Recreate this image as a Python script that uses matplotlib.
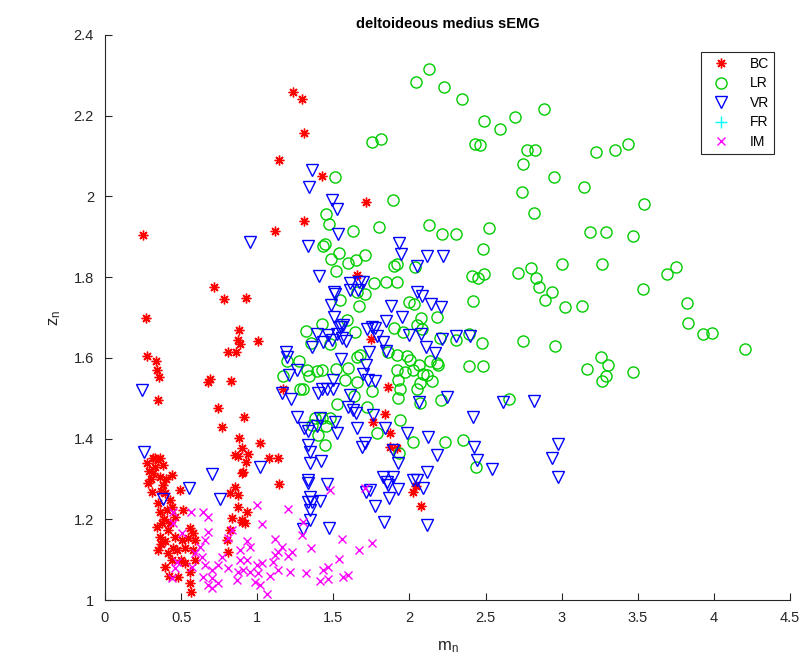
import matplotlib
matplotlib.use("Agg")
import matplotlib.pyplot as plt
import numpy as np

plt.rcParams['font.family'] = ['Liberation Sans', 'DejaVu Sans']
plt.rcParams['mathtext.default'] = 'regular'

bc_x = [1.237,1.292,1.307,1.143,1.424,1.713,1.310,1.117,0.248,1.656,0.718,0.784,0.926,0.267,0.878,0.876,0.887,0.810,0.861,1.005,
        0.278,0.333,0.344,0.357,0.679,0.692,0.828,0.350,0.745,0.767,0.915,0.880,0.898,0.329,0.361,0.872,1.018,0.942,0.926,0.909,
        1.080,1.139,1.145,0.931,0.920,0.898,0.318,0.274,0.350,0.383,0.318,0.285,0.361,0.438,0.383,0.307,0.394,0.427,0.350,0.361,
        0.405,0.460,0.372,0.416,0.361,0.394,0.460,0.504,0.350,0.416,0.471,0.526,0.394,0.482,0.558,0.558,0.565,0.493,0.515,0.558,
        0.547,0.591,0.580,0.591,0.526,0.438,0.854,0.898,0.854,0.821,0.876,0.876,0.832,0.898,0.821,0.799,0.810,0.580,1.746,1.168,
        1.763,1.862,1.840,1.873,1.873,1.916,2.026,2.040,2.074,0.33,0.40,0.30,0.37,0.44,0.39,0.34,0.43,0.37,0.45,0.42,0.50,0.29]
bc_y = [2.260,2.241,2.156,2.090,2.051,1.987,1.940,1.914,1.904,1.805,1.775,1.746,1.748,1.698,1.668,1.644,1.634,1.615,1.614,1.642,
        1.605,1.591,1.570,1.553,1.541,1.548,1.543,1.496,1.475,1.428,1.454,1.401,1.376,1.351,1.351,1.357,1.388,1.363,1.343,1.318,
        1.351,1.351,1.287,1.219,1.190,1.198,1.351,1.339,1.347,1.334,1.314,1.289,1.306,1.310,1.285,1.268,1.264,1.248,1.240,1.219,
        1.223,1.206,1.190,1.173,1.157,1.145,1.157,1.149,1.124,1.116,1.124,1.128,1.083,1.058,1.070,1.041,1.021,1.273,1.223,1.178,
        1.153,1.149,1.124,1.099,1.091,1.099,1.359,1.314,1.281,1.264,1.260,1.231,1.202,1.194,1.173,1.149,1.120,1.165,1.646,1.522,
        1.442,1.527,1.461,1.413,1.380,1.376,1.268,1.282,1.234,1.33,1.30,1.30,1.27,1.23,1.20,1.18,1.19,1.14,1.13,1.06,1.10,1.32]

lr_x = [2.131,2.043,2.229,2.348,2.492,2.593,2.694,1.756,1.813,2.431,2.464,2.886,2.775,2.827,2.744,2.952,2.740,2.817,3.228,3.353,
        3.438,3.149,3.543,3.189,3.294,3.471,2.714,2.797,2.830,2.854,2.937,2.893,3.022,3.134,3.005,3.265,3.533,3.690,3.752,3.826,
        3.828,3.929,3.988,4.207,2.749,2.957,3.259,3.303,3.165,3.292,3.268,3.467,2.654,1.890,1.800,2.127,2.214,2.304,2.525,2.481,
        1.901,1.916,2.037,2.411,2.453,2.492,1.767,1.844,1.920,1.995,2.030,2.420,1.511,1.452,1.472,1.632,1.434,1.445,1.483,1.540,
        1.599,1.647,1.708,1.516,1.654,1.708,1.544,1.669,1.428,1.592,1.319,1.353,1.478,1.643,1.193,1.275,1.654,1.676,1.325,1.340,
        1.395,1.424,1.518,1.594,1.168,1.577,1.654,1.752,1.281,1.303,1.636,1.526,1.719,1.380,1.424,1.478,1.358,1.452,1.401,1.445,
        1.785,2.184,2.076,2.052,2.085,1.960,1.901,2.201,2.306,2.394,2.475,1.862,1.921,1.982,2.004,2.065,2.135,2.179,2.190,1.921,
        1.971,2.026,2.091,2.113,1.927,2.146,2.069,1.938,2.048,1.927,2.069,2.205,2.394,2.481,1.938,2.022,2.234,2.350,1.932,2.436]
lr_y = [2.315,2.283,2.272,2.241,2.188,2.166,2.196,2.136,2.142,2.131,2.127,2.216,2.116,2.116,2.080,2.047,2.010,1.958,2.109,2.115,
        2.131,2.023,1.981,1.912,1.911,1.901,1.810,1.823,1.799,1.776,1.762,1.744,1.725,1.729,1.832,1.833,1.770,1.807,1.825,1.735,
        1.687,1.660,1.662,1.622,1.642,1.629,1.602,1.582,1.572,1.555,1.543,1.564,1.497,1.992,1.925,1.929,1.908,1.908,1.923,1.870,
        1.828,1.833,1.826,1.804,1.799,1.807,1.785,1.789,1.787,1.738,1.733,1.741,2.047,1.956,1.932,1.915,1.876,1.881,1.845,1.859,
        1.834,1.842,1.854,1.815,1.764,1.758,1.743,1.728,1.685,1.695,1.666,1.638,1.634,1.663,1.591,1.591,1.603,1.607,1.570,1.555,
        1.567,1.570,1.572,1.574,1.555,1.545,1.541,1.518,1.524,1.522,1.505,1.486,1.479,1.450,1.450,1.450,1.434,1.430,1.409,1.384,
        1.413,1.700,1.698,1.681,1.671,1.665,1.673,1.648,1.644,1.658,1.636,1.614,1.607,1.605,1.595,1.582,1.591,1.588,1.582,1.570,
        1.566,1.570,1.561,1.557,1.545,1.543,1.537,1.522,1.522,1.500,1.487,1.496,1.580,1.580,1.446,1.392,1.392,1.396,1.365,1.329]

vr_x = [2.617,2.817,2.974,2.937,2.978,1.932,1.945,2.118,2.223,2.048,2.048,2.081,1.879,2.142,2.208,1.358,1.343,1.491,1.522,1.533,
        0.953,1.336,1.404,1.507,1.511,1.610,1.671,1.697,1.610,1.665,1.485,1.507,1.540,1.391,1.719,1.752,1.551,1.566,1.467,1.522,
        1.555,1.583,1.434,1.489,1.358,1.774,1.189,1.193,1.735,1.551,1.713,1.211,1.260,1.697,1.500,1.730,1.774,1.161,1.222,1.401,
        1.424,1.461,1.496,1.610,1.599,1.632,1.647,1.763,1.260,1.307,1.332,1.413,1.395,1.511,1.522,1.654,1.708,1.687,1.336,1.953,
        1.844,1.785,1.829,1.846,1.997,2.076,2.109,2.168,2.212,2.304,2.398,2.063,2.245,2.420,1.840,1.982,2.124,2.424,1.895,1.927,
        1.829,1.895,1.851,1.862,1.927,1.741,1.868,1.774,1.833,2.026,2.052,2.087,2.113,2.184,2.118,2.442,2.541,1.018,1.347,1.347,
        1.419,1.336,1.336,1.461,1.347,1.336,1.358,1.413,1.347,1.347,1.299,1.474,1.715,0.241,0.258,0.705,0.552,0.383,0.756]
vr_y = [1.491,1.493,1.387,1.351,1.306,1.885,1.857,1.853,1.853,1.828,1.764,1.754,1.729,1.733,1.725,2.065,2.023,1.990,1.968,1.907,
        1.888,1.877,1.804,1.764,1.758,1.785,1.789,1.789,1.768,1.768,1.731,1.700,1.677,1.660,1.672,1.677,1.676,1.681,1.657,1.659,
        1.648,1.642,1.640,1.644,1.628,1.673,1.615,1.603,1.615,1.596,1.582,1.557,1.570,1.561,1.545,1.545,1.543,1.512,1.498,1.514,
        1.522,1.523,1.523,1.508,1.479,1.471,1.463,1.458,1.454,1.425,1.419,1.452,1.430,1.442,1.413,1.425,1.388,1.380,1.384,1.700,
        1.692,1.653,1.640,1.617,1.657,1.659,1.628,1.613,1.646,1.653,1.654,1.491,1.504,1.454,1.425,1.413,1.405,1.380,1.372,1.339,
        1.306,1.306,1.293,1.285,1.274,1.273,1.252,1.233,1.194,1.297,1.297,1.277,1.316,1.359,1.186,1.347,1.325,1.329,1.367,1.339,
        1.345,1.297,1.289,1.287,1.256,1.244,1.244,1.246,1.223,1.198,1.175,1.179,1.268,1.520,1.367,1.312,1.278,1.250,1.250]

fr_x = []
fr_y = []

im_x = [0.449,0.565,0.646,0.679,0.449,0.679,0.504,0.657,0.624,0.591,0.635,0.767,0.745,0.657,0.701,0.810,0.569,0.471,0.460,0.646,
        0.701,0.745,0.679,0.701,0.438,0.887,0.887,0.876,0.865,0.832,0.810,1.001,1.205,1.029,1.303,1.292,1.478,1.708,0.931,0.953,
        1.117,1.161,1.139,1.117,1.227,1.205,1.353,1.555,1.752,1.669,1.537,0.931,0.997,1.029,1.106,0.909,0.953,1.007,1.084,1.139,
        1.216,1.318,1.434,1.467,1.413,1.467,1.566,1.599,0.986,1.018,1.067]
im_y = [1.219,1.219,1.219,1.206,1.190,1.169,1.165,1.149,1.132,1.116,1.107,1.107,1.087,1.087,1.074,1.079,1.083,1.095,1.079,1.058,
        1.054,1.041,1.037,1.029,1.054,1.124,1.099,1.070,1.050,1.173,1.153,1.235,1.225,1.188,1.194,1.161,1.273,1.277,1.145,1.132,
        1.150,1.132,1.120,1.111,1.120,1.109,1.128,1.151,1.142,1.124,1.102,1.099,1.087,1.091,1.095,1.074,1.070,1.066,1.059,1.074,
        1.070,1.066,1.074,1.083,1.048,1.051,1.058,1.062,1.045,1.037,1.015]

labels = ['BC', 'LR', 'VR', 'FR', 'IM']
x_ticks = [0, 0.5, 1, 1.5, 2, 2.5, 3, 3.5, 4, 4.5]
y_ticks = [1, 1.2, 1.4, 1.6, 1.8, 2, 2.2, 2.4]

fig = plt.figure(figsize=(8.04, 6.57), dpi=100)
ax = fig.add_axes([105/804, 1-600/657, 685/804, 565/657])

ax.plot(bc_x, bc_y, linestyle='none', marker=(8, 2, 0), markersize=7, markeredgewidth=1.0,
        color='red', label=labels[0])
ax.plot(lr_x, lr_y, linestyle='none', marker='o', markersize=8, markeredgewidth=1.0,
        markerfacecolor='none', markeredgecolor=(0, 0.8, 0), label=labels[1])
ax.plot(vr_x, vr_y, linestyle='none', marker='v', markersize=9, markeredgewidth=1.0,
        markerfacecolor='none', markeredgecolor='blue', label=labels[2])
ax.plot(fr_x, fr_y, linestyle='none', marker='+', markersize=8, markeredgewidth=1.0,
        color='cyan', label=labels[3])
ax.plot(im_x, im_y, linestyle='none', marker='x', markersize=5.5, markeredgewidth=1.0,
        color='magenta', label=labels[4])

ax.set_xlim(0, 4.5)
ax.set_ylim(1, 2.4)
ax.set_xticks(x_ticks)
ax.set_xticklabels(['0', '0.5', '1', '1.5', '2', '2.5', '3', '3.5', '4', '4.5'])
ax.set_yticks(y_ticks)
ax.set_yticklabels(['1', '1.2', '1.4', '1.6', '1.8', '2', '2.2', '2.4'])

gray = (0.15, 0.15, 0.15)
for s in ['top', 'right']:
    ax.spines[s].set_visible(False)
for s in ['left', 'bottom']:
    ax.spines[s].set_color(gray)
    ax.spines[s].set_linewidth(0.8)
ax.tick_params(direction='in', length=5, width=0.8, colors=gray, labelsize=10.5, pad=8)

ax.set_xlabel('m$_n$', fontsize=12, color=gray, labelpad=10)
ax.set_ylabel('z$_n$', fontsize=12, color=gray, labelpad=8)
ax.set_title('deltoideous medius sEMG', fontsize=10.5, fontweight='bold', pad=5)

leg = ax.legend(loc='upper right', bbox_to_anchor=(0.977, 0.970), fontsize=10,
                frameon=True, fancybox=False, edgecolor=gray, framealpha=1,
                handlelength=2.2, handletextpad=1.0, borderpad=0.35, labelspacing=0.4,
                borderaxespad=0)
leg.get_frame().set_linewidth(0.8)

fig.savefig('out.png', dpi=100)
